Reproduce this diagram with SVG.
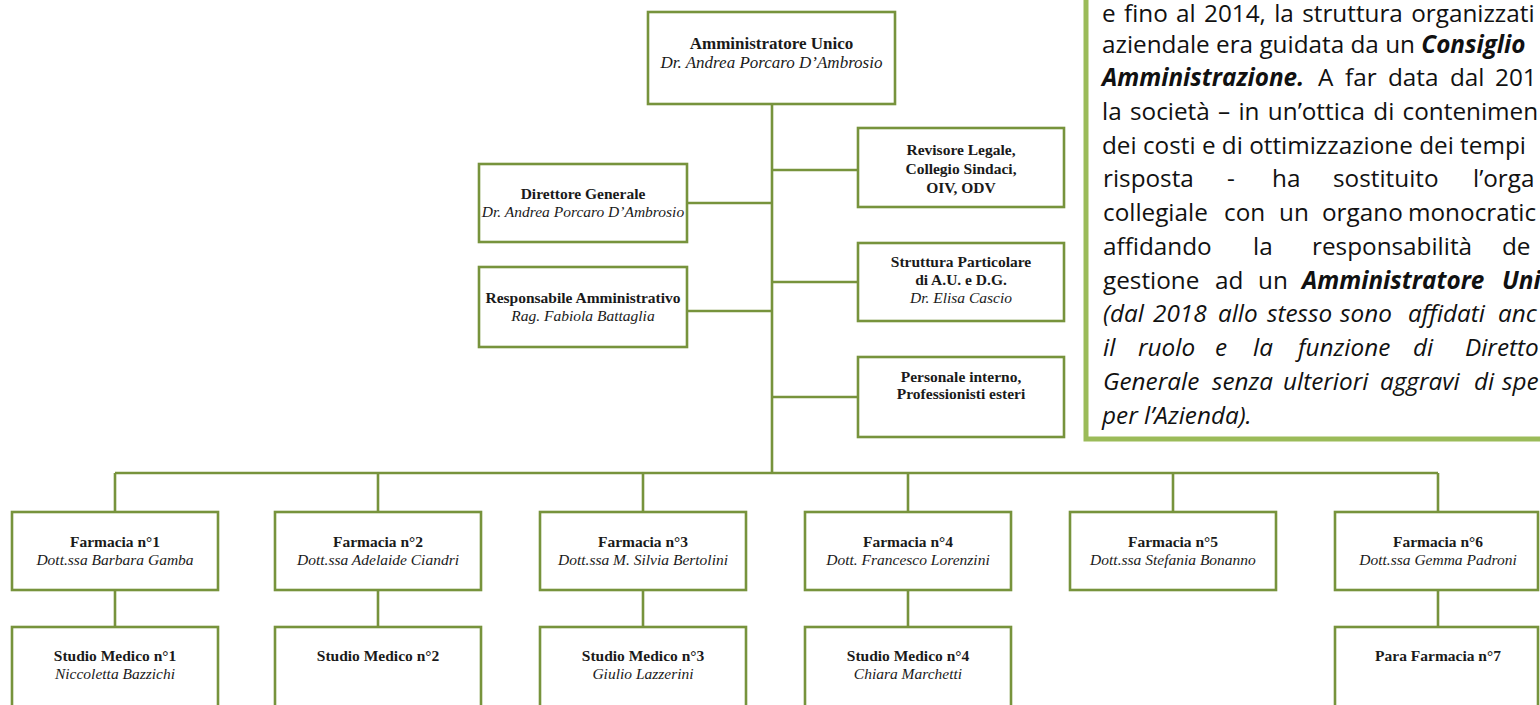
<svg xmlns="http://www.w3.org/2000/svg" width="1540" height="705" viewBox="0 0 1540 705">
<style>
.box{fill:#ffffff;stroke:#77933c;stroke-width:2.6}
.conn{fill:none;stroke:#77933c;stroke-width:2.6}
.panel{fill:#ffffff;stroke:#9bbb59;stroke-width:5}
.t{font-family:"Liberation Serif","Times New Roman",serif;font-size:15.5px;text-anchor:middle;fill:#1a1a1a}
.big{font-size:17px}
.b{font-weight:bold}
.i{font-style:italic}
.p{font-family:"Open Sans","Liberation Sans",sans-serif;font-size:24.3px;fill:#111111}
.bi{font-weight:bold;font-style:italic}
</style>
<rect width="1540" height="705" fill="#ffffff"/>

<g id="note">
<rect class="panel" x="1086" y="-20" width="480" height="459"/>
<text class="p" x="1102" y="22" word-spacing="2">e fino al 2014, la struttura organizzati</text>
<text class="p" x="1102" y="53">aziendale era guidata da un <tspan class="bi">Consiglio</tspan></text>
<text class="p" y="86"><tspan class="bi" x="1102">Amministrazione.</tspan><tspan x="1318">A</tspan><tspan x="1345">far</tspan><tspan x="1388">data</tspan><tspan x="1450">dal</tspan><tspan x="1495">201</tspan></text>
<text class="p" x="1102" y="120" word-spacing="2">la società – in un’ottica di contenimen</text>
<text class="p" x="1102" y="153.5">dei costi e di ottimizzazione dei tempi</text>
<text class="p" y="187"><tspan x="1103">risposta</tspan><tspan x="1227">-</tspan><tspan x="1272">ha</tspan><tspan x="1333">sostituito</tspan><tspan x="1473">l’orga</tspan></text>
<text class="p" y="221"><tspan x="1103">collegiale</tspan><tspan x="1224">con</tspan><tspan x="1279">un</tspan><tspan x="1322">organo</tspan><tspan x="1408">monocratic</tspan></text>
<text class="p" y="255"><tspan x="1103">affidando</tspan><tspan x="1253">la</tspan><tspan x="1312">responsabilità</tspan><tspan x="1502">de</tspan></text>
<text class="p" y="288.5"><tspan x="1103">gestione</tspan><tspan x="1215">ad</tspan><tspan x="1258">un</tspan><tspan class="bi" x="1302">Amministratore</tspan><tspan class="bi" x="1502">Uni</tspan></text>
<text class="p i" y="322"><tspan x="1103">(dal</tspan><tspan x="1153">2018</tspan><tspan x="1218">allo</tspan><tspan x="1267">stesso</tspan><tspan x="1340">sono</tspan><tspan x="1408">affidati</tspan><tspan x="1498">anc</tspan></text>
<text class="p i" y="356"><tspan x="1103">il</tspan><tspan x="1138">ruolo</tspan><tspan x="1215">e</tspan><tspan x="1253">la</tspan><tspan x="1298">funzione</tspan><tspan x="1413">di</tspan><tspan x="1465">Diretto</tspan></text>
<text class="p i" y="390"><tspan x="1103">Generale</tspan><tspan x="1212">senza</tspan><tspan x="1283">ulteriori</tspan><tspan x="1380">aggravi</tspan><tspan x="1474">di</tspan><tspan x="1502">spe</tspan></text>
<text class="p i" x="1102" y="423.5">per l’Azienda).</text>
</g>

<g id="connectors">
<path class="conn" d="M772,104 V473 M115,473 H1438 M115,473 V512 M378,473 V512 M643,473 V512 M908,473 V512 M1173,473 V512 M1438,473 V512 M687,203 H772 M687,311 H772 M772,170 H858 M772,282 H858 M772,397 H858 M115,590 V627 M378,590 V627 M643,590 V627 M908,590 V627 M1438,590 V627"/>
</g>

<g id="amministratore-unico">
<rect class="box" x="648" y="12" width="247" height="92"/>
<text class="t big b" x="771.5" y="49">Amministratore Unico</text>
<text class="t big i" x="771.5" y="68">Dr. Andrea Porcaro D’Ambrosio</text>
</g>

<g id="direttore-generale">
<rect class="box" x="479" y="164" width="208" height="78"/>
<text class="t b" x="583" y="199">Direttore Generale</text>
<text class="t i" x="583" y="217">Dr. Andrea Porcaro D’Ambrosio</text>
</g>

<g id="responsabile-amministrativo">
<rect class="box" x="479" y="267" width="208" height="80"/>
<text class="t b" x="583" y="303">Responsabile Amministrativo</text>
<text class="t i" x="583" y="321">Rag. Fabiola Battaglia</text>
</g>

<g id="revisore-legale">
<rect class="box" x="858" y="128" width="206" height="79"/>
<text class="t b" x="961" y="155">Revisore Legale,</text>
<text class="t b" x="961" y="174">Collegio Sindaci,</text>
<text class="t b" x="961" y="193">OIV, ODV</text>
</g>

<g id="struttura-particolare">
<rect class="box" x="858" y="243" width="206" height="78"/>
<text class="t b" x="961" y="267">Struttura Particolare</text>
<text class="t b" x="961" y="285">di A.U. e D.G.</text>
<text class="t i" x="961" y="303">Dr. Elisa Cascio</text>
</g>

<g id="personale-interno">
<rect class="box" x="858" y="357" width="206" height="80"/>
<text class="t b" x="961" y="382">Personale interno,</text>
<text class="t b" x="961" y="399">Professionisti esteri</text>
</g>

<g id="farmacia-1">
<rect class="box" x="12" y="512" width="206" height="78"/>
<text class="t b" x="115" y="547">Farmacia n°1</text>
<text class="t i" x="115" y="565">Dott.ssa Barbara Gamba</text>
</g>
<g id="farmacia-2">
<rect class="box" x="275" y="512" width="206" height="78"/>
<text class="t b" x="378" y="547">Farmacia n°2</text>
<text class="t i" x="378" y="565">Dott.ssa Adelaide Ciandri</text>
</g>
<g id="farmacia-3">
<rect class="box" x="540" y="512" width="206" height="78"/>
<text class="t b" x="643" y="547">Farmacia n°3</text>
<text class="t i" x="643" y="565">Dott.ssa M. Silvia Bertolini</text>
</g>
<g id="farmacia-4">
<rect class="box" x="805" y="512" width="206" height="78"/>
<text class="t b" x="908" y="547">Farmacia n°4</text>
<text class="t i" x="908" y="565">Dott. Francesco Lorenzini</text>
</g>
<g id="farmacia-5">
<rect class="box" x="1070" y="512" width="206" height="78"/>
<text class="t b" x="1173" y="547">Farmacia n°5</text>
<text class="t i" x="1173" y="565">Dott.ssa Stefania Bonanno</text>
</g>
<g id="farmacia-6">
<rect class="box" x="1335" y="512" width="203" height="78"/>
<text class="t b" x="1438" y="547">Farmacia n°6</text>
<text class="t i" x="1438" y="565">Dott.ssa Gemma Padroni</text>
</g>

<g id="studio-medico-1">
<rect class="box" x="12" y="627" width="206" height="95"/>
<text class="t b" x="115" y="661">Studio Medico n°1</text>
<text class="t i" x="115" y="679">Niccoletta Bazzichi</text>
</g>
<g id="studio-medico-2">
<rect class="box" x="275" y="627" width="206" height="95"/>
<text class="t b" x="378" y="661">Studio Medico n°2</text>
</g>
<g id="studio-medico-3">
<rect class="box" x="540" y="627" width="206" height="95"/>
<text class="t b" x="643" y="661">Studio Medico n°3</text>
<text class="t i" x="643" y="679">Giulio Lazzerini</text>
</g>
<g id="studio-medico-4">
<rect class="box" x="805" y="627" width="206" height="95"/>
<text class="t b" x="908" y="661">Studio Medico n°4</text>
<text class="t i" x="908" y="679">Chiara Marchetti</text>
</g>
<g id="para-farmacia-7">
<rect class="box" x="1335" y="627" width="203" height="95"/>
<text class="t b" x="1438" y="661">Para Farmacia n°7</text>
</g>
</svg>
